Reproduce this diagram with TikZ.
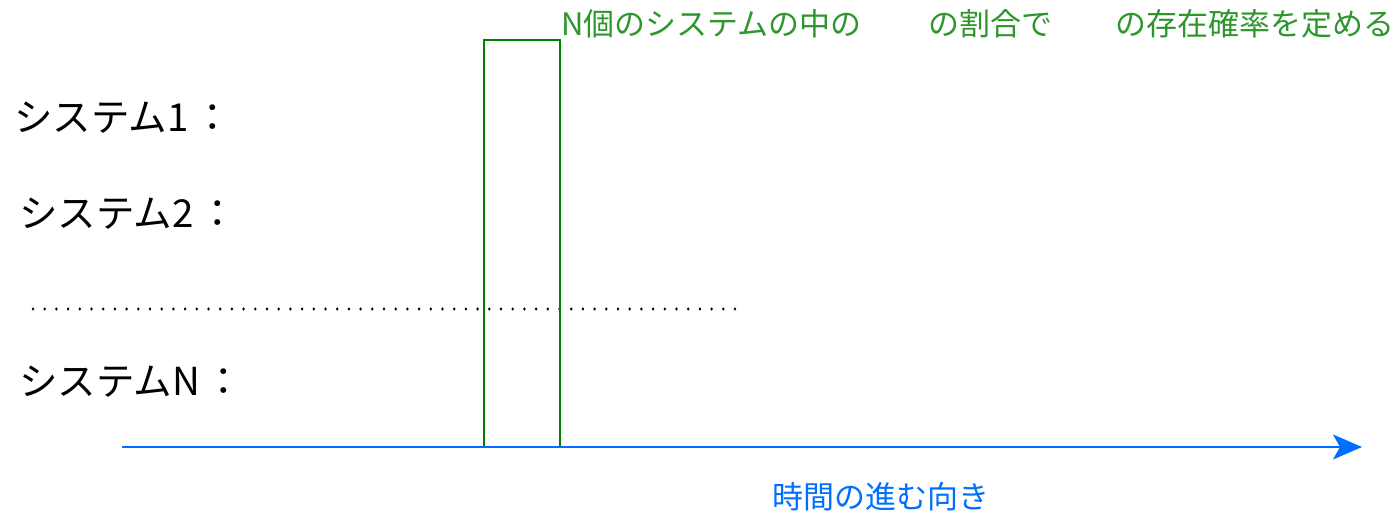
\documentclass[tikz,border=0pt]{standalone}
\usepackage{fontspec}
\setmainfont{Noto Sans CJK JP}
\usetikzlibrary{arrows.meta}
\definecolor{txtgreen}{RGB}{45,150,45}
\definecolor{boxgreen}{RGB}{0,128,0}
\definecolor{arrowblue}{RGB}{0,110,255}
\tikzset{
  syslabel/.style={anchor=west, inner sep=0pt, font=\fontsize{38.5}{40}\selectfont, text=black},
  greentxt/.style={anchor=west, inner sep=0pt, font=\fontsize{31}{33}\selectfont, text=txtgreen},
  bluetxt/.style={anchor=center, inner sep=0pt, font=\fontsize{31}{33}\selectfont, text=arrowblue},
  timebox/.style={draw=boxgreen, line width=1.5pt},
  timeaxis/.style={draw=arrowblue, line width=1.5pt, -{Stealth[length=29pt, width=25pt, inset=7pt]}},
  dotmark/.style={fill=black}
}
\begin{document}
\begin{tikzpicture}[x=1pt,y=-1pt]
\useasboundingbox (0,0) rectangle (1400,513);
% title
\node[greentxt] (title) at (561,24) {N個のシステムの中の\hspace{2.15em}の割合で\hspace{2.03em}の存在確率を定める};
% labels
\node[syslabel] (s1) at (14,118) {システム1\kern5pt：};
\node[syslabel] (s2) at (19,214) {システム2\kern5pt：};
\node[syslabel] (sN) at (19,382) {システムN\kern5pt：};
% dotted row
\foreach \i in {0,...,60} {
  \fill[dotmark] ({33+11.7*\i},309) ellipse [x radius=1.3pt, y radius=1.7pt];
}
% green box
\draw[timebox] (484,40) rectangle (560,447);
% time axis
\coordinate (axstart) at (122,447);
\coordinate (axend) at (1362,447);
\draw[timeaxis] (axstart) -- (axend);
\node[bluetxt] (timelbl) at (881,497) {時間の進む向き};
\end{tikzpicture}
\end{document}
